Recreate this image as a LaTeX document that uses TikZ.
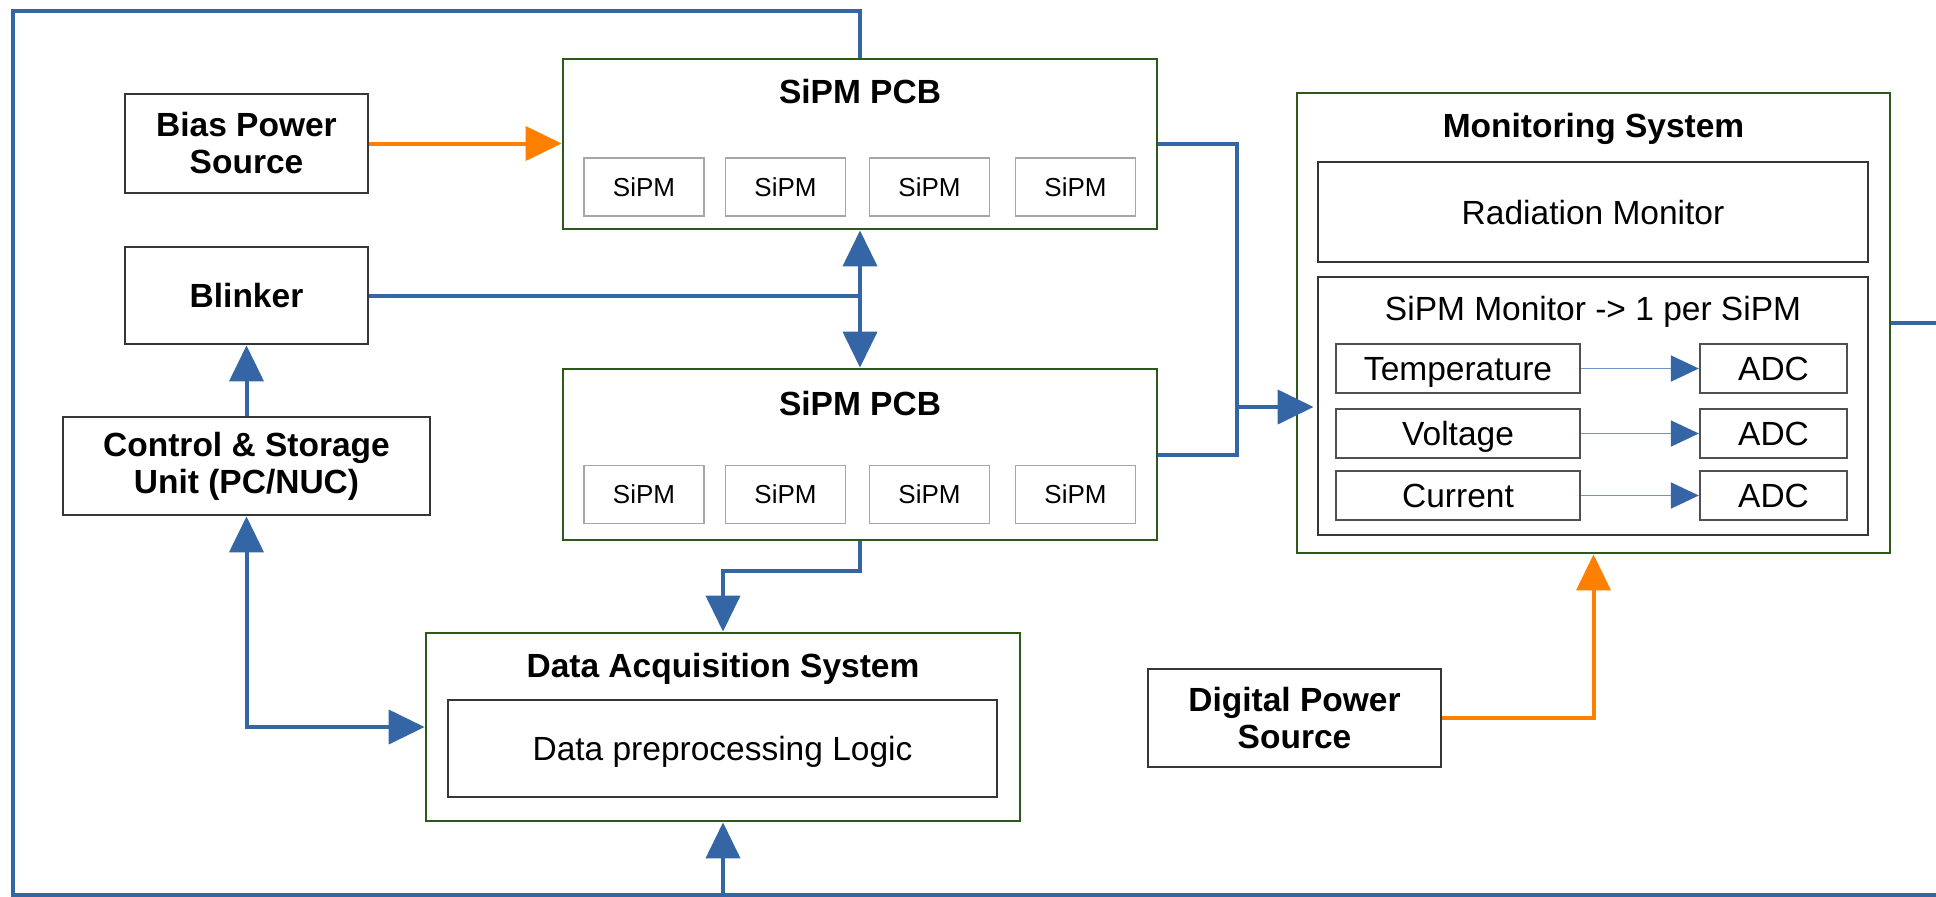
\documentclass[tikz,border=0pt]{standalone}
\usepackage{fontspec}
\setmainfont{Liberation Sans}
\usetikzlibrary{arrows.meta,calc}

\definecolor{wireblue}{HTML}{3465A4}
\definecolor{thinblue}{HTML}{6F93C9}
\definecolor{powerorange}{HTML}{FF8000}
\definecolor{groupgreen}{HTML}{2D5A1B}
\definecolor{boxgray}{HTML}{363636}
\definecolor{probegray}{HTML}{505050}
\definecolor{cellgray}{HTML}{A6A6A6}

\newcommand\dgmain{\fontsize{16.75pt}{18.5pt}\selectfont}
\newcommand\dgcell{\fontsize{13pt}{15pt}\selectfont}

\tikzset{
  sz/.style 2 args={minimum width=#1*0.5pt, minimum height=#2*0.5pt},
  unitbox/.style={draw=boxgray, line width=1.4pt, fill=white, inner sep=0pt,
                  align=center, font=\dgmain\bfseries},
  groupbox/.style={draw=groupgreen, line width=1.4pt, fill=white, inner sep=0pt},
  innerbox/.style={draw=boxgray, line width=1.4pt, inner sep=0pt, font=\dgmain,
                   text height=12pt, text depth=0pt},
  probe/.style={draw=probegray, line width=1.2pt, inner sep=0pt, font=\dgmain,
                text height=12pt, text depth=0pt},
  cell/.style={draw=cellgray, line width=0.9pt, inner sep=0pt, font=\dgcell,
               minimum width=60pt, minimum height=29pt},
  grouptitle/.style={font=\dgmain\bfseries, inner sep=0pt, anchor=base},
  plaintitle/.style={font=\dgmain, inner sep=0pt, anchor=base},
  wire/.style={draw=wireblue, line width=2pt},
  feed/.style={draw=powerorange, line width=2pt},
  tip/.style={-{Triangle[length=18pt,width=17pt]}},
  bitip/.style={{Triangle[length=18pt,width=17pt]}-{Triangle[length=18pt,width=17pt]}},
  thinwire/.style={draw=thinblue, line width=0.9pt,
                   -{Triangle[length=14pt,width=13pt,color=wireblue]}},
}

\begin{document}
\begin{tikzpicture}[x=0.5pt,y=-0.5pt]
\useasboundingbox (0,0) rectangle (1936,896);

% ---- left column: sources and control unit
\node[unitbox, sz={243}{99}] (bias) at (246.5,143.5) {Bias Power\\Source};
\node[unitbox, sz={243}{97}] (blinker) at (246.5,295.5) {Blinker};
\node[unitbox, sz={367}{98}] (ctrl) at (246.5,466) {Control \& Storage\\Unit (PC/NUC)};

% ---- SiPM boards
\node[groupbox, sz={594}{170}] (pcb1) at (860,144) {};
\node[grouptitle] (pcb1t) at (860,103) {SiPM PCB};
\foreach \cx [count=\i] in {644,785.5,929.5,1075.5}
  \node[cell] (pcb1c\i) at (\cx,187) {SiPM};

\node[groupbox, sz={594}{171}] (pcb2) at (860,454.5) {};
\node[grouptitle] (pcb2t) at (860,415) {SiPM PCB};
\foreach \cx [count=\i] in {644,785.5,929.5,1075.5}
  \node[cell] (pcb2c\i) at (\cx,494.5) {SiPM};

% ---- data acquisition
\node[groupbox, sz={594}{188}] (daq) at (723,727) {};
\node[grouptitle] (daqt) at (723,677) {Data Acquisition System};
\node[innerbox, sz={549}{97}] (dpl) at (722.5,748.5) {Data preprocessing Logic};

% ---- monitoring system
\node[groupbox, sz={593}{460}] (mon) at (1593.5,323) {};
\node[grouptitle] (mont) at (1593.5,137) {Monitoring System};
\node[innerbox, sz={550}{100}] (rad) at (1593,212) {Radiation Monitor};
\node[innerbox, sz={550}{258}] (smon) at (1593,406) {};
\node[plaintitle] (smont) at (1593,320) {SiPM Monitor -> 1 per SiPM};
\node[probe, sz={244}{49}] (temp) at (1458,368.5) {Temperature};
\node[probe, sz={244}{49}] (volt) at (1458,433.5) {Voltage};
\node[probe, sz={244}{49}] (curr) at (1458,495.5) {Current};
\node[probe, sz={147}{49}] (adc1) at (1773.5,368.5) {ADC};
\node[probe, sz={147}{49}] (adc2) at (1773.5,433.5) {ADC};
\node[probe, sz={147}{49}] (adc3) at (1773.5,495.5) {ADC};

\node[unitbox, sz={293}{98}] (digital) at (1294.5,718) {Digital Power\\Source};

% ---- frame bus and junction points
\coordinate (frameTL) at (13,11);
\coordinate (frameBL) at (13,895);
\coordinate (frameBR) at (1945,895);
\coordinate (rightout) at (1945,323);
\coordinate (busx) at (1237,407);

% ---- power feeds
\draw[feed, tip] (bias.east) -- (pcb1.west |- bias.east);
\draw[feed, tip] (digital.east) -| (mon.south);

% ---- signal wiring
\draw[wire] (pcb1.north) -- (pcb1.north |- frameTL) -- (frameTL) -- (frameBL) -- (frameBR);
\draw[wire, tip] (daq.south |- frameBL) -- (daq.south);
\draw[wire] (mon.east) -- (rightout);

\draw[wire] (blinker.east) -- (blinker.east -| pcb1.south) coordinate (bj);
\draw[wire, tip] (bj) -- (pcb1.south);
\draw[wire, tip] (bj) -- (pcb2.north);

\draw[wire, tip] (ctrl.north) -- (blinker.south);
\draw[wire, bitip] (ctrl.south) |- (daq.west);

\draw[wire, tip] (pcb2.south) -- ++(0,30) -| (daq.north);

\draw[wire] (pcb1.east) -| (busx);
\draw[wire] (pcb2.east) -| (busx);
\draw[wire, tip, shorten >=-9pt] (busx) -- (mon.west |- busx);

\draw[thinwire] (temp.east) -- (adc1.west);
\draw[thinwire] (volt.east) -- (adc2.west);
\draw[thinwire] (curr.east) -- (adc3.west);
\end{tikzpicture}
\end{document}
